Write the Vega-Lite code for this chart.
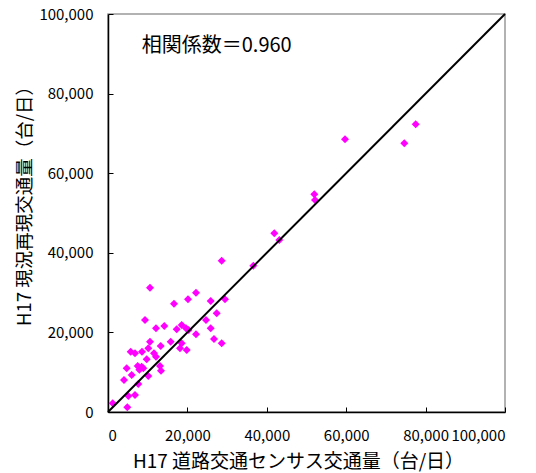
{
  "$schema": "https://vega.github.io/schema/vega-lite/v6.json",
  "width": 397,
  "height": 398,
  "autosize": {"type": "none"},
  "padding": {"left": 108, "top": 14, "right": 31, "bottom": 61},
  "background": "white",
  "config": {
    "font": "Noto Sans CJK JP",
    "view": {"stroke": "#999999", "strokeWidth": 1.5},
    "axis": {
      "grid": false,
      "domainColor": "black",
      "domainWidth": 1.5,
      "tickColor": "black",
      "tickWidth": 1,
      "labelFont": "Noto Sans CJK JP",
      "labelFontSize": 15,
      "labelColor": "black",
      "titleFont": "Noto Sans CJK JP",
      "titleFontWeight": "normal",
      "titleColor": "black"
    }
  },
  "datasets": {
    "points": [
      {"census": 10580, "model": 31240},
      {"census": 22170, "model": 29980},
      {"census": 20150, "model": 28320},
      {"census": 16630, "model": 27220},
      {"census": 25870, "model": 27900},
      {"census": 29470, "model": 28320},
      {"census": 9320, "model": 23120},
      {"census": 24690, "model": 23120},
      {"census": 27380, "model": 24800},
      {"census": 12090, "model": 21030},
      {"census": 14180, "model": 21610},
      {"census": 17300, "model": 20780},
      {"census": 18560, "model": 21860},
      {"census": 19650, "model": 21030},
      {"census": 20300, "model": 20600},
      {"census": 22170, "model": 19520},
      {"census": 25870, "model": 21030},
      {"census": 26700, "model": 18340},
      {"census": 28640, "model": 17260},
      {"census": 10580, "model": 17670},
      {"census": 15790, "model": 17670},
      {"census": 18560, "model": 17260},
      {"census": 18140, "model": 16000},
      {"census": 19820, "model": 15580},
      {"census": 13270, "model": 16590},
      {"census": 10150, "model": 16000},
      {"census": 5720, "model": 15160},
      {"census": 6800, "model": 14750},
      {"census": 8560, "model": 15160},
      {"census": 11590, "model": 14750},
      {"census": 12090, "model": 13900},
      {"census": 9750, "model": 13240},
      {"census": 4710, "model": 10980},
      {"census": 5970, "model": 9300},
      {"census": 4030, "model": 8040},
      {"census": 7480, "model": 11560},
      {"census": 8490, "model": 11390},
      {"census": 8890, "model": 10980},
      {"census": 7900, "model": 10600},
      {"census": 13100, "model": 11560},
      {"census": 13350, "model": 10380},
      {"census": 10150, "model": 9050},
      {"census": 7640, "model": 7040},
      {"census": 5130, "model": 4020},
      {"census": 6800, "model": 4270},
      {"census": 1180, "model": 2180},
      {"census": 4860, "model": 1180},
      {"census": 28640, "model": 38020},
      {"census": 36600, "model": 36770},
      {"census": 41900, "model": 44900},
      {"census": 43150, "model": 43220},
      {"census": 51970, "model": 54700},
      {"census": 52140, "model": 53280},
      {"census": 59700, "model": 68530},
      {"census": 77510, "model": 72300},
      {"census": 74640, "model": 67520}
    ],
    "diag": [
      {"census": 0, "model": 0},
      {"census": 100000, "model": 100000}
    ],
    "note": [
      {"label": "相関係数＝0.960"}
    ]
  },
  "layer": [
    {
      "data": {"name": "points"},
      "mark": {"type": "point", "shape": "diamond", "filled": true, "color": "#FF00FF", "opacity": 1, "size": 64},
      "encoding": {
        "x": {
          "field": "census", "type": "quantitative",
          "scale": {"domain": [0, 100000], "nice": false, "zero": true},
          "axis": {
            "values": [0, 20000, 40000, 60000, 80000, 100000],
            "format": ",d",
            "tickSize": -5,
            "labelPadding": 21,
            "title": "H17 道路交通センサス交通量（台/日）",
            "titleFontSize": 19,
            "titlePadding": 9,
            "titleX": 190
          }
        },
        "y": {
          "field": "model", "type": "quantitative",
          "scale": {"domain": [0, 100000], "nice": false, "zero": true},
          "axis": {
            "values": [0, 20000, 40000, 60000, 80000, 100000],
            "format": ",d",
            "tickSize": -5,
            "labelPadding": 20,
            "title": "H17 現況再現交通量（台/日）",
            "titleFontSize": 18.5,
            "titlePadding": 4,
            "titleY": 187
          }
        }
      }
    },
    {
      "data": {"name": "diag"},
      "mark": {"type": "line", "color": "black", "strokeWidth": 2},
      "encoding": {
        "x": {"field": "census", "type": "quantitative"},
        "y": {"field": "model", "type": "quantitative"}
      }
    },
    {
      "data": {"name": "note"},
      "mark": {"type": "text", "align": "left", "baseline": "middle", "fontSize": 20, "font": "Noto Sans CJK JP", "color": "black"},
      "encoding": {
        "x": {"datum": 8500, "type": "quantitative"},
        "y": {"datum": 92000, "type": "quantitative"},
        "text": {"field": "label"}
      }
    }
  ]
}
